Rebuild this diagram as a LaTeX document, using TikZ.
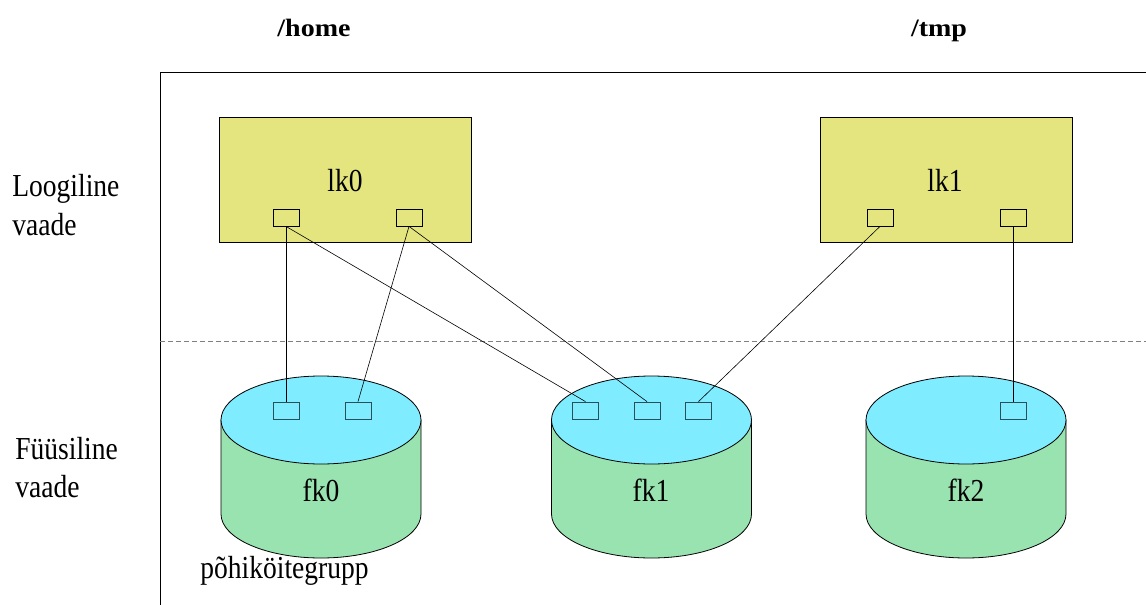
\documentclass[tikz,border=0pt]{standalone}
\usepackage{fontspec}
\setmainfont[FakeStretch=0.86]{Liberation Serif}
\newfontfamily\headfont[FakeStretch=1.12]{Liberation Serif}
\definecolor{volyellow}{RGB}{229,229,128}
\definecolor{disktop}{RGB}{128,236,255}
\definecolor{diskbody}{RGB}{153,227,176}
\definecolor{portedge}{RGB}{40,80,90}
\begin{document}
\begin{tikzpicture}[x=1pt,y=-1pt,line width=0.8pt,
  txt/.style={font=\fontsize{32}{38}\selectfont,inner sep=0pt,anchor=base},
  head/.style={font=\headfont\fontsize{25}{30}\selectfont\bfseries,inner sep=0pt,anchor=base},
  lvol/.style={draw,fill=volyellow,minimum width=252pt,minimum height=125pt,inner sep=0pt},
  lport/.style={draw,minimum width=26pt,minimum height=17pt,inner sep=0pt},
  dport/.style={draw=portedge,fill=disktop,minimum width=26pt,minimum height=17pt,inner sep=0pt},
  link/.style={line width=0.6pt},
  disk/.pic={
    \filldraw[fill=diskbody] (-100,0) -- (-100,94)
      arc[start angle=180,end angle=0,x radius=100,y radius=44] -- (100,0) -- cycle;
    \filldraw[fill=disktop] (0,0) ellipse[x radius=100,y radius=44];
  }]
\useasboundingbox (0,0) rectangle (1146,605);

% frame and separator
\draw (1146,72) -- (160,72) -- (160,605);
\draw[gray,dash pattern=on 5pt off 3pt] (160,341) -- (1146,341);

% headings
\node[head] (home) at (314,36.5) {/home};
\node[head] (tmp) at (939,36.5) {/tmp};

% side labels
\node[txt,anchor=base west] (log1) at (12,196.5) {Loogiline};
\node[txt,anchor=base west] (log2) at (12,235) {vaade};
\node[txt,anchor=base west] (phy1) at (15,459) {Füüsiline};
\node[txt,anchor=base west] (phy2) at (15,497.5) {vaade};

% logical volumes
\node[lvol] (lk0box) at (345,179.5) {};
\node[lvol] (lk1box) at (946,179.5) {};
\node[txt] (lk0) at (345,191.5) {lk0};
\node[txt] (lk1) at (945,191.5) {lk1};
\node[lport] (a1) at (286,217.5) {};
\node[lport] (a2) at (409,217.5) {};
\node[lport] (b1) at (880,217.5) {};
\node[lport] (b2) at (1013,217.5) {};

% physical disks
\pic at (321,420) {disk};
\pic at (651.5,420) {disk};
\pic at (966,420) {disk};
\node[txt] (fk0) at (321,501.5) {fk0};
\node[txt] (fk1) at (651,501.5) {fk1};
\node[txt] (fk2) at (966,501.5) {fk2};
\node[txt,anchor=base west] (grp) at (200,578) {põhiköitegrupp};
\node[dport] (c1) at (286,410.5) {};
\node[dport] (c2) at (358,410.5) {};
\node[dport] (d1) at (585.5,410.5) {};
\node[dport] (d2) at (647,410.5) {};
\node[dport] (d3) at (698.5,410.5) {};
\node[dport] (e1) at (1013,410.5) {};

% mappings
\draw[link] (a1.south) -- (c1.north);
\draw[link] (a1.south) -- (d1.north);
\draw[link] (a2.south) -- (c2.north);
\draw[link] (a2.south) -- (d2.north);
\draw[link] (b1.south) -- (d3.north);
\draw[link] (b2.south) -- (e1.north);
\end{tikzpicture}
\end{document}
